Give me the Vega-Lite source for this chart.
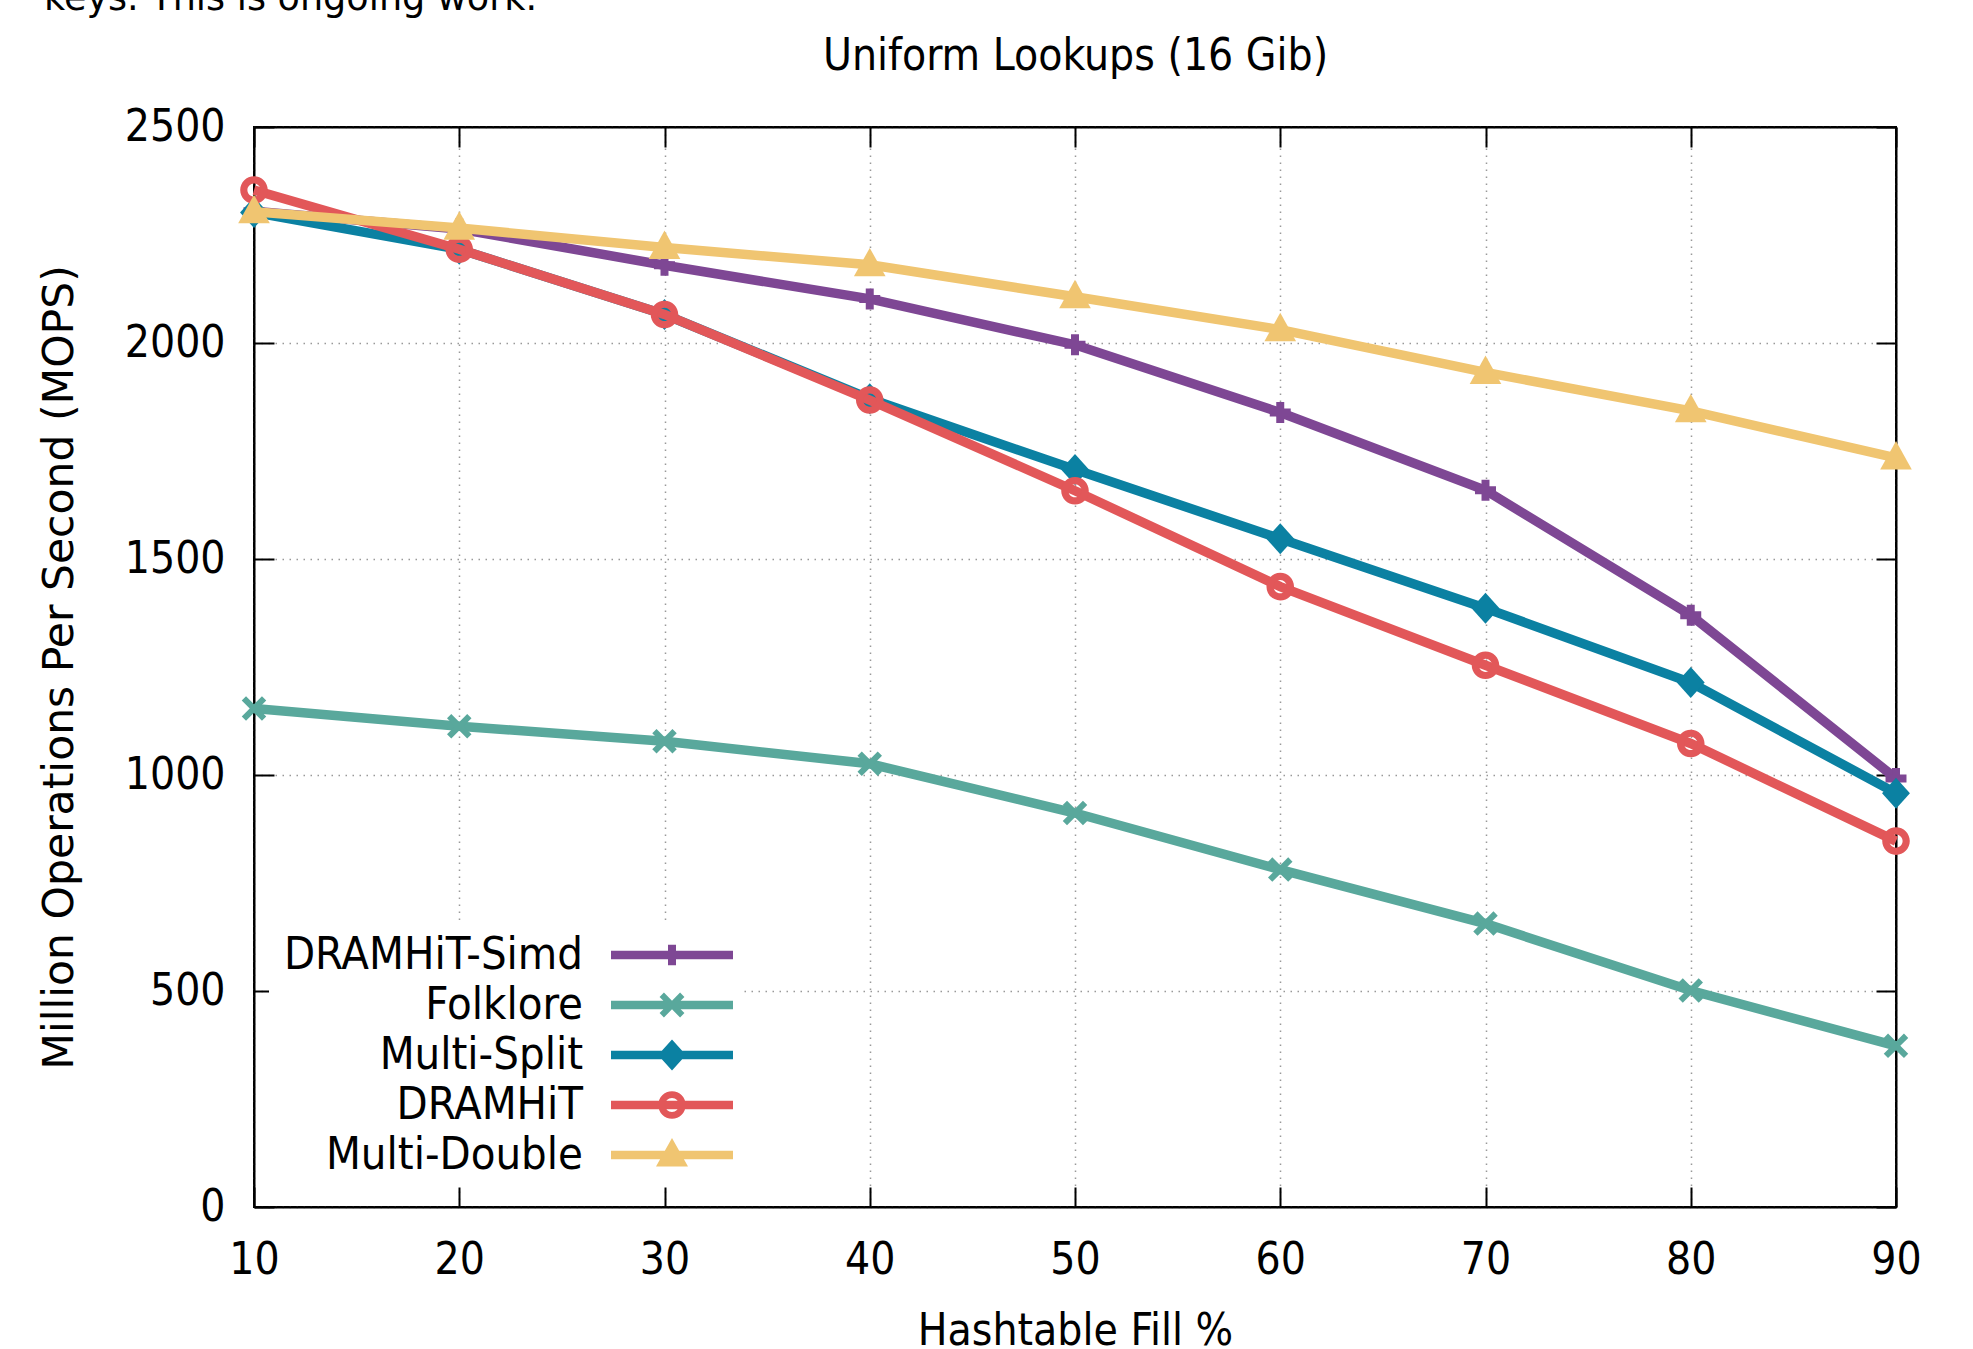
{
  "$schema": "https://vega.github.io/schema/vega-lite/v6.json",
  "autosize": "none",
  "width": 1642,
  "height": 1080,
  "padding": {"left": 254, "top": 127, "right": 77, "bottom": 142},
  "background": "white",
  "title": {"text": "keys. This is ongoing work.", "anchor": "start", "frame": "group", "dx": -210, "offset": -13, "baseline": "alphabetic", "font": "DejaVu Sans", "fontSize": 36.6, "fontWeight": "normal", "color": "#000000"},
  "config": {
    "view": {"stroke": "#000000", "strokeWidth": 2},
    "axis": {"labelFont": "DejaVu Sans Condensed, DejaVu Sans", "labelFontSize": 44, "labelColor": "#000000", "titleFont": "DejaVu Sans Condensed, DejaVu Sans", "titleFontSize": 44, "titleFontWeight": "normal", "titleColor": "#000000", "domainColor": "#000000", "domainWidth": 2, "tickColor": "#000000", "tickWidth": 2, "tickSize": -20, "gridColor": "#999999", "gridDash": [1.5, 5.5], "gridWidth": 1.5, "labelFlush": false, "labelOverlap": false, "labelBound": false}
  },
  "data": {"values": [
    {"s": "DRAMHiT-Simd", "fill": 10, "mops": 2305}, {"s": "DRAMHiT-Simd", "fill": 20, "mops": 2264}, {"s": "DRAMHiT-Simd", "fill": 30, "mops": 2180}, {"s": "DRAMHiT-Simd", "fill": 40, "mops": 2102}, {"s": "DRAMHiT-Simd", "fill": 50, "mops": 1996}, {"s": "DRAMHiT-Simd", "fill": 60, "mops": 1839}, {"s": "DRAMHiT-Simd", "fill": 70, "mops": 1659}, {"s": "DRAMHiT-Simd", "fill": 80, "mops": 1370}, {"s": "DRAMHiT-Simd", "fill": 90, "mops": 992},
    {"s": "Folklore", "fill": 10, "mops": 1154}, {"s": "Folklore", "fill": 20, "mops": 1113}, {"s": "Folklore", "fill": 30, "mops": 1078}, {"s": "Folklore", "fill": 40, "mops": 1026}, {"s": "Folklore", "fill": 50, "mops": 912}, {"s": "Folklore", "fill": 60, "mops": 781}, {"s": "Folklore", "fill": 70, "mops": 656}, {"s": "Folklore", "fill": 80, "mops": 501}, {"s": "Folklore", "fill": 90, "mops": 373},
    {"s": "Multi-Split", "fill": 10, "mops": 2302}, {"s": "Multi-Split", "fill": 20, "mops": 2217}, {"s": "Multi-Split", "fill": 30, "mops": 2066}, {"s": "Multi-Split", "fill": 40, "mops": 1871}, {"s": "Multi-Split", "fill": 50, "mops": 1707}, {"s": "Multi-Split", "fill": 60, "mops": 1547}, {"s": "Multi-Split", "fill": 70, "mops": 1386}, {"s": "Multi-Split", "fill": 80, "mops": 1214}, {"s": "Multi-Split", "fill": 90, "mops": 958},
    {"s": "DRAMHiT", "fill": 10, "mops": 2354}, {"s": "DRAMHiT", "fill": 20, "mops": 2217}, {"s": "DRAMHiT", "fill": 30, "mops": 2066}, {"s": "DRAMHiT", "fill": 40, "mops": 1868}, {"s": "DRAMHiT", "fill": 50, "mops": 1658}, {"s": "DRAMHiT", "fill": 60, "mops": 1436}, {"s": "DRAMHiT", "fill": 70, "mops": 1254}, {"s": "DRAMHiT", "fill": 80, "mops": 1073}, {"s": "DRAMHiT", "fill": 90, "mops": 847},
    {"s": "Multi-Double", "fill": 10, "mops": 2304}, {"s": "Multi-Double", "fill": 20, "mops": 2266}, {"s": "Multi-Double", "fill": 30, "mops": 2221}, {"s": "Multi-Double", "fill": 40, "mops": 2181}, {"s": "Multi-Double", "fill": 50, "mops": 2107}, {"s": "Multi-Double", "fill": 60, "mops": 2031}, {"s": "Multi-Double", "fill": 70, "mops": 1932}, {"s": "Multi-Double", "fill": 80, "mops": 1843}, {"s": "Multi-Double", "fill": 90, "mops": 1734}
  ]},
  "layer": [
    {
      "transform": [{"filter": "datum.s === 'DRAMHiT-Simd'"}],
      "mark": {"type": "line", "strokeWidth": 9.5},
      "encoding": {
        "x": {"field": "fill", "type": "quantitative", "scale": {"domain": [10, 90], "nice": false, "zero": false},
              "axis": {"orient": "bottom", "values": [10, 20, 30, 40, 50, 60, 70, 80, 90], "format": "d", "grid": true, "title": "Hashtable Fill %", "titleX": 821, "titleY": 137, "titleAlign": "center", "titleBaseline": "alphabetic", "labelBaseline": "alphabetic", "labelPadding": 86}},
        "y": {"field": "mops", "type": "quantitative", "scale": {"domain": [0, 2500], "nice": false},
              "axis": {"orient": "left", "values": [0, 500, 1000, 1500, 2000, 2500], "format": "d", "grid": true, "title": "Million Operations Per Second (MOPS)", "titleFont": "DejaVu Sans", "titleFontSize": 42.5, "titleX": -182, "titleY": 540, "titleAngle": -90, "titleAlign": "center", "titleBaseline": "alphabetic", "labelBaseline": "middle", "labelAlign": "right", "labelPadding": 49}},
        "color": {"field": "s", "type": "nominal", "scale": {"domain": ["DRAMHiT-Simd", "Folklore", "Multi-Split", "DRAMHiT", "Multi-Double"], "range": ["#7e4794", "#59a89c", "#0b81a2", "#e25759", "#f0c571"]}, "legend": {
          "title": null, "orient": "none", "legendX": 15, "legendY": 795, "direction": "vertical",
          "fillColor": "white", "padding": 8, "symbolSize": 2500, "symbolStrokeWidth": 0, "symbolOffset": 370, "rowPadding": 2,
          "labelAlign": "right", "labelOffset": -114, "labelLimit": 600, "labelFont": "DejaVu Sans Condensed, DejaVu Sans", "labelFontSize": 45, "labelColor": "#000000", "labelBaseline": "middle",
          "encode": {"symbols": {"update": {
            "shape": {"signal": "datum.value === 'DRAMHiT-Simd' ? 'M-2.44,-0.17H2.44V0.17H-2.44Z M-0.16,-0.41H0.16V0.41H-0.16Z' : datum.value === 'Folklore' ? 'M-2.44,-0.17H2.44V0.17H-2.44Z M0,-0.174L0.323,-0.497L0.497,-0.323L0.174,0L0.497,0.323L0.323,0.497L0,0.174L-0.323,0.497L-0.497,0.323L-0.174,0L-0.497,-0.323L-0.323,-0.497Z' : datum.value === 'Multi-Split' ? 'M-2.44,-0.17H2.44V0.17H-2.44Z M0,-0.62L0.56,0L0,0.62L-0.56,0Z' : datum.value === 'DRAMHiT' ? 'M-2.44,-0.17H2.44V0.17H-2.44Z M0.55,0A0.55,0.55,0,1,1,-0.55,0A0.55,0.55,0,1,1,0.55,0Z M0.28,0A0.28,0.28,0,1,0,-0.28,0A0.28,0.28,0,1,0,0.28,0Z' : 'M-2.44,-0.17H2.44V0.17H-2.44Z M0,-0.68L0.64,0.46L-0.64,0.46Z'"},
            "fill": {"signal": "scale('color', datum.value)"},
            "stroke": {"value": "transparent"},
            "strokeWidth": {"value": 0},
            "opacity": {"value": 1}
          }}}
        }}
      }
    },
    {
      "transform": [{"filter": "datum.s === 'DRAMHiT-Simd'"}],
      "mark": {"type": "point", "filled": true, "opacity": 1, "size": 440, "shape": "M-0.38,-1H0.38V-0.38H1V0.38H0.38V1H-0.38V0.38H-1V-0.38H-0.38Z"},
      "encoding": {
        "x": {"field": "fill", "type": "quantitative", "axis": {"orient": "top", "values": [10, 20, 30, 40, 50, 60, 70, 80, 90], "labels": false, "grid": false, "title": "Uniform Lookups (16 Gib)", "titleX": 821, "titleY": -58, "titleAlign": "center", "titleBaseline": "alphabetic"}},
        "y": {"field": "mops", "type": "quantitative", "axis": {"orient": "right", "values": [0, 500, 1000, 1500, 2000, 2500], "labels": false, "grid": false, "title": null}},
        "color": {"field": "s", "type": "nominal"}
      }
    },
    {
      "transform": [{"filter": "datum.s === 'Folklore'"}],
      "mark": {"type": "line", "strokeWidth": 9.5},
      "encoding": {"x": {"field": "fill", "type": "quantitative", "axis": null}, "y": {"field": "mops", "type": "quantitative", "axis": null}, "color": {"field": "s", "type": "nominal"}}
    },
    {
      "transform": [{"filter": "datum.s === 'Folklore'"}],
      "mark": {"type": "point", "filled": true, "opacity": 1, "size": 600, "shape": "M0,-0.35L0.65,-1L1,-0.65L0.35,0L1,0.65L0.65,1L0,0.35L-0.65,1L-1,0.65L-0.35,0L-1,-0.65L-0.65,-1Z"},
      "encoding": {"x": {"field": "fill", "type": "quantitative", "axis": null}, "y": {"field": "mops", "type": "quantitative", "axis": null}, "color": {"field": "s", "type": "nominal"}}
    },
    {
      "transform": [{"filter": "datum.s === 'Multi-Split'"}],
      "mark": {"type": "line", "strokeWidth": 9.5},
      "encoding": {"x": {"field": "fill", "type": "quantitative", "axis": null}, "y": {"field": "mops", "type": "quantitative", "axis": null}, "color": {"field": "s", "type": "nominal"}}
    },
    {
      "transform": [{"filter": "datum.s === 'Multi-Split'"}],
      "mark": {"type": "point", "filled": true, "opacity": 1, "size": 960, "shape": "M0,-1L0.9,0L0,1L-0.9,0Z"},
      "encoding": {"x": {"field": "fill", "type": "quantitative", "axis": null}, "y": {"field": "mops", "type": "quantitative", "axis": null}, "color": {"field": "s", "type": "nominal"}}
    },
    {
      "transform": [{"filter": "datum.s === 'DRAMHiT'"}],
      "mark": {"type": "line", "strokeWidth": 9.5},
      "encoding": {"x": {"field": "fill", "type": "quantitative", "axis": null}, "y": {"field": "mops", "type": "quantitative", "axis": null}, "color": {"field": "s", "type": "nominal"}}
    },
    {
      "transform": [{"filter": "datum.s === 'DRAMHiT'"}],
      "mark": {"type": "point", "filled": true, "opacity": 1, "size": 760, "shape": "M1,0A1,1,0,1,1,-1,0A1,1,0,1,1,1,0Z M0.48,0A0.48,0.48,0,1,0,-0.48,0A0.48,0.48,0,1,0,0.48,0Z"},
      "encoding": {"x": {"field": "fill", "type": "quantitative", "axis": null}, "y": {"field": "mops", "type": "quantitative", "axis": null}, "color": {"field": "s", "type": "nominal"}}
    },
    {
      "transform": [{"filter": "datum.s === 'Multi-Double'"}],
      "mark": {"type": "line", "strokeWidth": 9.5},
      "encoding": {"x": {"field": "fill", "type": "quantitative", "axis": null}, "y": {"field": "mops", "type": "quantitative", "axis": null}, "color": {"field": "s", "type": "nominal"}}
    },
    {
      "transform": [{"filter": "datum.s === 'Multi-Double'"}],
      "mark": {"type": "point", "filled": true, "opacity": 1, "size": 1000, "shape": "M0,-1.07L1,0.73L-1,0.73Z"},
      "encoding": {"x": {"field": "fill", "type": "quantitative", "axis": null}, "y": {"field": "mops", "type": "quantitative", "axis": null}, "color": {"field": "s", "type": "nominal"}}
    }
  ]
}
